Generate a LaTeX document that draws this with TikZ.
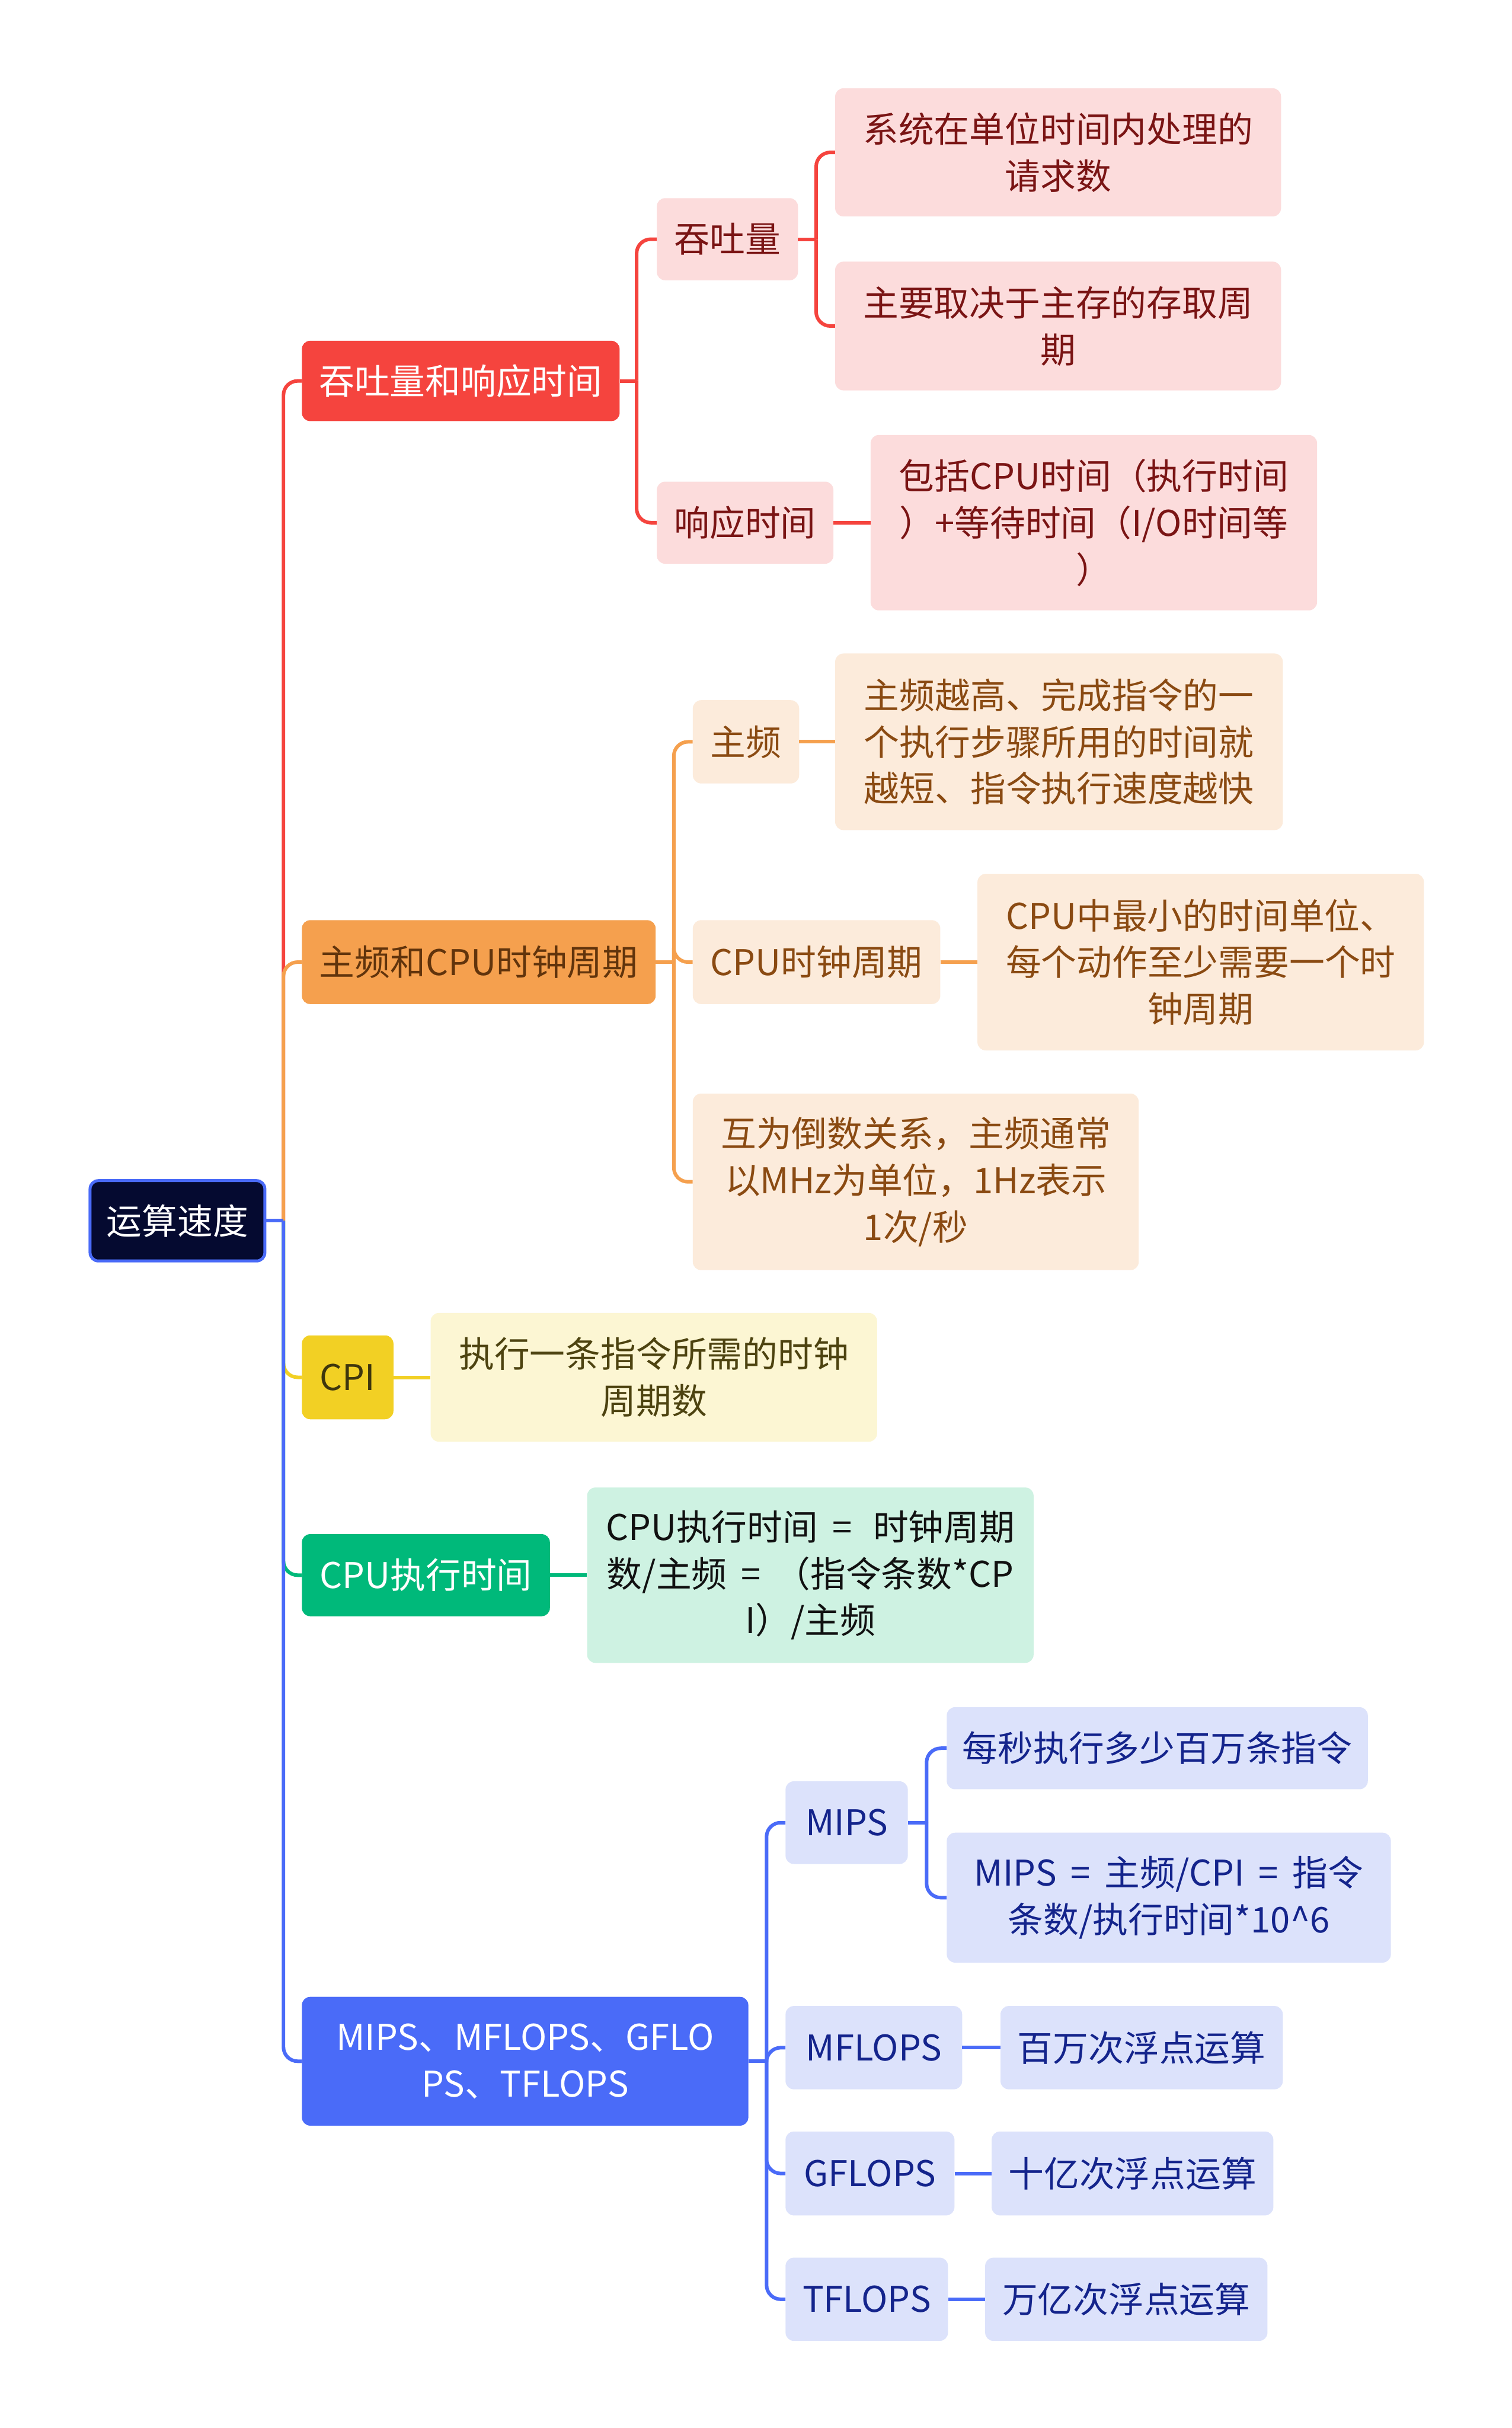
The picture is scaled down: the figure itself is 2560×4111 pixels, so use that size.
\documentclass[tikz,border=0pt]{standalone}
\usepackage{fontspec}
\setmainfont{Noto Sans CJK SC}
\newcommand\fsz{\fontsize{60}{79}\selectfont}
\newcommand\eqsp{\hspace{.4em}=\hspace{.4em}}
\definecolor{cRed}{HTML}{F5443E}
\definecolor{lRed}{HTML}{FCDCDC}
\definecolor{tRed}{HTML}{7A1414}
\definecolor{cOra}{HTML}{F5A04E}
\definecolor{lOra}{HTML}{FCEBDB}
\definecolor{tOra}{HTML}{8A4A12}
\definecolor{cYel}{HTML}{F2D024}
\definecolor{lYel}{HTML}{FCF6D3}
\definecolor{tYel}{HTML}{4D4310}
\definecolor{cGre}{HTML}{00B97A}
\definecolor{lGre}{HTML}{CEF2E2}
\definecolor{tGre}{HTML}{111111}
\definecolor{cBlu}{HTML}{4A6BF8}
\definecolor{lBlu}{HTML}{DCE2FB}
\definecolor{tBlu}{HTML}{14248C}
\definecolor{cRoot}{HTML}{050A30}
\begin{document}
\begin{tikzpicture}[x=1pt,y=-1pt,
  box/.style={rounded corners=14pt, inner sep=0pt, align=center, anchor=west, font=\fsz},
  rootbox/.style={box, fill=cRoot, draw=cBlu, line width=5pt, text=white},
  mred/.style={box, fill=cRed, text=white},
  lred/.style={box, fill=lRed, text=tRed},
  mora/.style={box, fill=cOra, text=tOra!70!black},
  lora/.style={box, fill=lOra, text=tOra},
  myel/.style={box, fill=cYel, text=tYel!80!black},
  lyel/.style={box, fill=lYel, text=tYel},
  mgre/.style={box, fill=cGre, text=white},
  lgre/.style={box, fill=lGre, text=tGre},
  mblu/.style={box, fill=cBlu, text=white},
  lblu/.style={box, fill=lBlu, text=tBlu},
  lnk/.style={line width=6pt},
  crv/.style={line width=6pt, rounded corners=24pt},
]
\fill[white] (0,0) rectangle (2560,4111);
\useasboundingbox (0,0) rectangle (2560,4111);

% root
\node[rootbox, minimum width=296pt, minimum height=136pt] (root) at (150,2067) {运算速度};

% level 1
\node[mred, minimum width=538pt, minimum height=136pt] (A) at (511,645) {吞吐量和响应时间};
\node[mora, minimum width=599pt, minimum height=142pt] (B) at (511,1629) {主频和CPU时钟周期};
\node[myel, minimum width=155pt, minimum height=142pt] (C) at (511,2332) {CPI};
\node[mgre, minimum width=420pt, minimum height=139pt] (D) at (511,2667) {CPU执行时间};
\node[mblu, minimum width=756pt, minimum height=218pt] (E) at (511,3490) {MIPS、MFLOPS、GFLO\\PS、TFLOPS};

% red branch
\node[lred, minimum width=239pt, minimum height=139pt] (A1) at (1112,405) {吞吐量};
\node[lred, minimum width=299pt, minimum height=139pt] (A2) at (1112,885) {响应时间};
\node[lred, minimum width=755pt, minimum height=217pt] (A11) at (1414,258) {系统在单位时间内处理的\\请求数};
\node[lred, minimum width=755pt, minimum height=218pt] (A12) at (1414,552) {主要取决于主存的存取周\\期};
\node[lred, minimum width=756pt, minimum height=297pt] (A21) at (1474,885) {包括CPU时间（执行时间\\）+等待时间（I/O时间等\\）};

% orange branch
\node[lora, minimum width=180pt, minimum height=141pt] (B1) at (1173,1256) {主频};
\node[lora, minimum width=758pt, minimum height=299pt] (B11) at (1414,1256) {主频越高、完成指令的一\\个执行步骤所用的时间就\\越短、指令执行速度越快};
\node[lora, minimum width=419pt, minimum height=142pt] (B2) at (1173,1629) {CPU时钟周期};
\node[lora, minimum width=756pt, minimum height=299pt] (B21) at (1655,1629) {CPU中最小的时间单位、\\每个动作至少需要一个时\\钟周期};
\node[lora, minimum width=755pt, minimum height=299pt] (B3) at (1173,2001) {互为倒数关系，主频通常\\以MHz为单位，1Hz表示\\1次/秒};

% yellow / green
\node[lyel, minimum width=756pt, minimum height=218pt] (C1) at (729,2332) {执行一条指令所需的时钟\\周期数};
\node[lgre, minimum width=756pt, minimum height=297pt] (D1) at (994,2667) {CPU执行时间\eqsp\hspace{.2em}时钟周期\\数/主频\eqsp（指令条数*CP\\I）/主频};

% blue branch
\node[lblu, minimum width=207pt, minimum height=140pt] (E1) at (1330,3086) {MIPS};
\node[lblu, minimum width=713pt, minimum height=139pt] (E11) at (1603,2960) {每秒执行多少百万条指令};
\node[lblu, minimum width=752pt, minimum height=220pt] (E12) at (1603,3213) {MIPS\eqsp 主频/CPI\eqsp 指令\\条数/执行时间*10\^{}6};
\node[lblu, minimum width=299pt, minimum height=141pt] (E2) at (1330,3467) {MFLOPS};
\node[lblu, minimum width=478pt, minimum height=141pt] (E21) at (1694,3467) {百万次浮点运算};
\node[lblu, minimum width=286pt, minimum height=142pt] (E3) at (1330,3680) {GFLOPS};
\node[lblu, minimum width=477pt, minimum height=142pt] (E31) at (1679,3680) {十亿次浮点运算};
\node[lblu, minimum width=275pt, minimum height=141pt] (E4) at (1330,3893) {TFLOPS};
\node[lblu, minimum width=478pt, minimum height=141pt] (E41) at (1668,3893) {万亿次浮点运算};

% junctions
\coordinate (j0) at (480,2067);
\coordinate (jA) at (1078,645);
\coordinate (jA1) at (1382,405);
\coordinate (jB) at (1141,1629);
\coordinate (jE) at (1298,3490);
\coordinate (jE1) at (1569,3086);

% root connectors (drawn in overlap order)
\draw[lnk, cRed] (root.east) -- (j0);
\draw[crv, cRed] (j0) |- (A.west);
\draw[lnk, cOra] (root.east) -- (j0);
\draw[crv, cOra] (j0) |- (B.west);
\draw[crv, cYel] (j0) |- (C.west);
\draw[crv, cGre] (j0) |- (D.west);
\draw[lnk, cBlu] (root.east) -- (j0);
\draw[crv, cBlu] (j0) |- (E.west);

% red
\draw[lnk, cRed] (A.east) -- (jA);
\draw[crv, cRed] (jA) |- (A1.west);
\draw[crv, cRed] (jA) |- (A2.west);
\draw[lnk, cRed] (A1.east) -- (jA1);
\draw[crv, cRed] (jA1) |- (A11.west);
\draw[crv, cRed] (jA1) |- (A12.west);
\draw[lnk, cRed] (A2.east) -- (A21.west);

% orange
\draw[lnk, cOra] (B.east) -- (jB);
\draw[crv, cOra] (jB) |- (B1.west);
\draw[crv, cOra] (jB) |- (B2.west);
\draw[crv, cOra] (jB) |- (B3.west);
\draw[lnk, cOra] (B1.east) -- (B11.west);
\draw[lnk, cOra] (B2.east) -- (B21.west);

% yellow, green
\draw[lnk, cYel] (C.east) -- (C1.west);
\draw[lnk, cGre] (D.east) -- (D1.west);

% blue
\draw[lnk, cBlu] (E.east) -- (jE);
\draw[crv, cBlu] (jE) |- (E1.west);
\draw[crv, cBlu] (jE) |- (E2.west);
\draw[crv, cBlu] (jE) |- (E3.west);
\draw[crv, cBlu] (jE) |- (E4.west);
\draw[lnk, cBlu] (E1.east) -- (jE1);
\draw[crv, cBlu] (jE1) |- (E11.west);
\draw[crv, cBlu] (jE1) |- (E12.west);
\draw[lnk, cBlu] (E2.east) -- (E21.west);
\draw[lnk, cBlu] (E3.east) -- (E31.west);
\draw[lnk, cBlu] (E4.east) -- (E41.west);
\end{tikzpicture}
\end{document}
